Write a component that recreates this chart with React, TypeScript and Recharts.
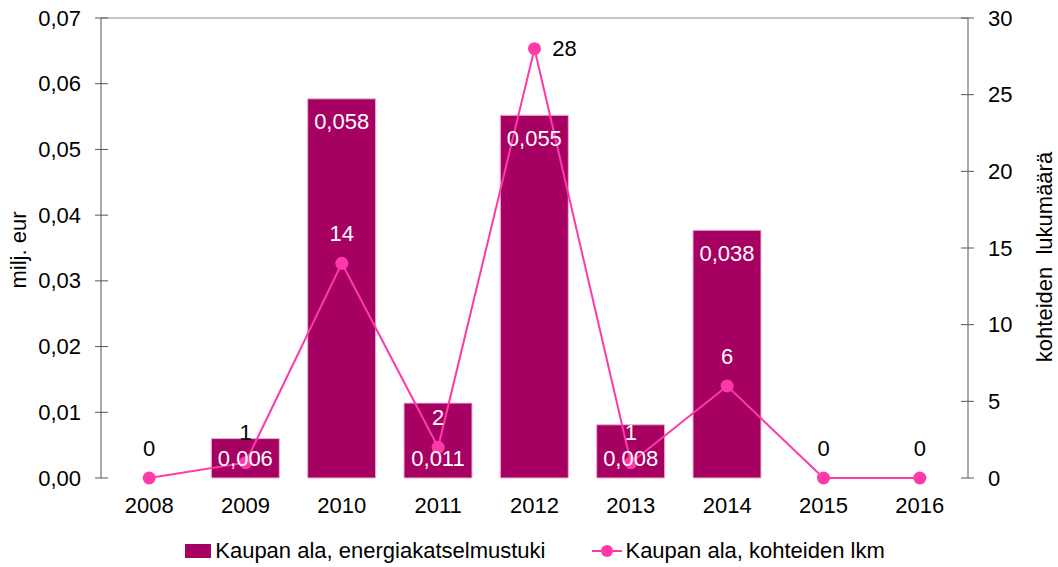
import React from "react";
import {
  ComposedChart,
  Bar,
  Line,
  XAxis,
  YAxis,
  Legend,
  LabelList,
  ReferenceLine,
  Label,
} from "recharts";

const years = ["2008", "2009", "2010", "2011", "2012", "2013", "2014", "2015", "2016"];
// milj. eur
const tuki = [0, 0.006, 0.0577, 0.0114, 0.0552, 0.0081, 0.0377, 0, 0];
// kohteiden lukumäärä
const kohteet = [0, 1, 14, 2, 28, 1, 6, 0, 0];
const leftTicks = [0, 0.01, 0.02, 0.03, 0.04, 0.05, 0.06, 0.07];
const rightTicks = [0, 5, 10, 15, 20, 25, 30];
const boundaryTicks = [1, 2, 3, 4, 5, 6, 7, 8];

const BAR_COLOR = "#A60063";
const LINE_COLOR = "#FF3AA8";
const AXIS_COLOR = "#555555";
const FONT = "'Liberation Sans', Arial, sans-serif";
const FS = 22;

// line labels that sit on top of a bar are drawn white
const whiteLineLabels = new Set([2, 3, 5, 6]);

const data = years.map((year, i) => ({ year, pos: i + 0.5, tuki: tuki[i], kohteet: kohteet[i] }));

const fmt = (v: number, d: number) => v.toFixed(d).replace(".", ",");

const LeftTick = ({ x, y, payload }: any) => (
  <g>
    <line x1={x - 6} x2={x + 7} y1={y} y2={y} stroke={AXIS_COLOR} />
    <text x={x - 20} y={y} textAnchor="end" dominantBaseline="central" fontSize={FS} fill="#000">
      {fmt(payload.value, 2)}
    </text>
  </g>
);

const RightTick = ({ x, y, payload }: any) => (
  <g>
    <line x1={x - 7} x2={x + 6} y1={y} y2={y} stroke={AXIS_COLOR} />
    <text x={x + 20} y={y} textAnchor="start" dominantBaseline="central" fontSize={FS} fill="#000">
      {payload.value}
    </text>
  </g>
);

// short bars get their value near the base, tall ones near the top
const BarLabel = (props: any) => {
  const { x, y, width, height, value } = props;
  if (!(value > 0)) return null;
  const cy = height < 90 ? y + height - 20 : y + 23;
  return (
    <text x={x + width / 2} y={cy} textAnchor="middle" dominantBaseline="central" fontSize={FS} fill="#fff">
      {fmt(value, 3)}
    </text>
  );
};

const LineLabel = (props: any) => {
  const { x, y, value, index } = props;
  const color = whiteLineLabels.has(index) ? "#fff" : "#000";
  if (value === 28) {
    return (
      <text x={x + 30} y={y} textAnchor="middle" dominantBaseline="central" fontSize={FS} fill={color}>
        {value}
      </text>
    );
  }
  return (
    <text x={x} y={y - 30} textAnchor="middle" dominantBaseline="central" fontSize={FS} fill={color}>
      {value}
    </text>
  );
};

const LegendContent = () => (
  <div
    style={{
      height: 39,
      boxSizing: "border-box",
      paddingTop: 10,
      paddingLeft: 12,
      display: "flex",
      justifyContent: "center",
      alignItems: "flex-start",
      fontSize: FS,
      fontFamily: FONT,
      color: "#000",
      lineHeight: "26px",
    }}
  >
    <div style={{ display: "flex", alignItems: "center", marginRight: 47 }}>
      <span style={{ width: 26, height: 14, background: BAR_COLOR, display: "inline-block", marginRight: 4 }} />
      <span>Kaupan ala, energiakatselmustuki</span>
    </div>
    <div style={{ display: "flex", alignItems: "center" }}>
      <svg width={30} height={14} style={{ marginRight: 3 }}>
        <line x1={0} x2={30} y1={7} y2={7} stroke={LINE_COLOR} strokeWidth={2} />
        <circle cx={15} cy={7} r={6} fill={LINE_COLOR} />
      </svg>
      <span>Kaupan ala, kohteiden lkm</span>
    </div>
  </div>
);

export default function App() {
  return (
    <div style={{ position: "absolute", left: 0, top: 0, fontFamily: FONT, background: "#fff" }}>
      <ComposedChart
        width={1058}
        height={567}
        data={data}
        margin={{ top: 18, right: 0, bottom: 0, left: 0 }}
        barSize={68}
      >
        <XAxis
          xAxisId="grid"
          type="number"
          dataKey="pos"
          domain={[0, 9]}
          ticks={boundaryTicks}
          tick={false}
          tickSize={8}
          height={0}
          stroke={AXIS_COLOR}
          tickLine={{ stroke: AXIS_COLOR }}
        />
        <XAxis
          dataKey="year"
          axisLine={false}
          tickLine={false}
          tickSize={0}
          tickMargin={19}
          height={50}
          tick={{ fontSize: FS, fill: "#000" }}
          interval={0}
        />
        <YAxis
          yAxisId="left"
          width={101}
          domain={[0, 0.07]}
          ticks={leftTicks}
          tickSize={0}
          tickMargin={0}
          tick={<LeftTick />}
          tickLine={false}
          stroke={AXIS_COLOR}
        >
          <Label
            content={({ viewBox }: any) => (
              <text
                x={viewBox.x + 18}
                y={viewBox.y + viewBox.height / 2 + 2}
                transform={`rotate(-90 ${viewBox.x + 18} ${viewBox.y + viewBox.height / 2 + 2})`}
                textAnchor="middle"
                dominantBaseline="central"
                fontSize={FS}
                fill="#000"
              >
                milj. eur
              </text>
            )}
          />
        </YAxis>
        <YAxis
          yAxisId="right"
          orientation="right"
          width={90}
          domain={[0, 30]}
          ticks={rightTicks}
          tickSize={0}
          tickMargin={0}
          tick={<RightTick />}
          tickLine={false}
          stroke={AXIS_COLOR}
        >
          <Label
            content={({ viewBox }: any) => (
              <text
                x={viewBox.x + 76}
                y={viewBox.y + viewBox.height / 2 + 9}
                transform={`rotate(-90 ${viewBox.x + 76} ${viewBox.y + viewBox.height / 2 + 9})`}
                textAnchor="middle"
                dominantBaseline="central"
                fontSize={FS}
                fill="#000"
                style={{ whiteSpace: "pre" }}
              >
                {"kohteiden  lukumäärä"}
              </text>
            )}
          />
        </YAxis>
        <ReferenceLine yAxisId="left" y={0.07} stroke="#8c8c8c" />
        <Legend verticalAlign="bottom" content={<LegendContent />} />
        <Bar
          yAxisId="left"
          dataKey="tuki"
          fill={BAR_COLOR}
          stroke="#e8b4d2"
          strokeWidth={1}
          isAnimationActive={false}
        >
          <LabelList dataKey="tuki" content={<BarLabel />} />
        </Bar>
        <Line
          yAxisId="right"
          dataKey="kohteet"
          stroke={LINE_COLOR}
          strokeWidth={2}
          dot={{ r: 6.5, fill: LINE_COLOR, stroke: LINE_COLOR, strokeWidth: 0 }}
          activeDot={false}
          isAnimationActive={false}
        >
          <LabelList dataKey="kohteet" content={<LineLabel />} />
        </Line>
      </ComposedChart>
    </div>
  );
}
